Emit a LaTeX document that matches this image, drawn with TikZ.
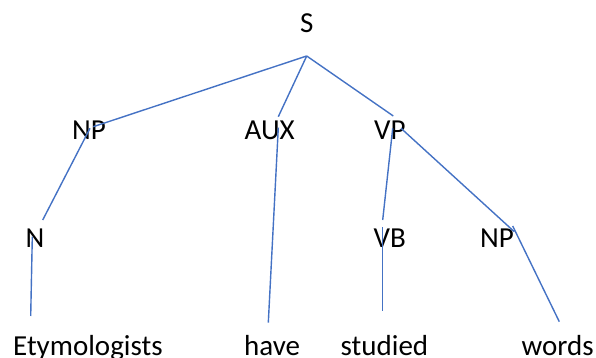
\documentclass[tikz,border=0pt]{standalone}
\usepackage{fontspec}
\setmainfont{Carlito}
\begin{document}
\begin{tikzpicture}[x=1pt,y=-1pt,
  lbl/.style={anchor=base west,inner sep=0pt,font=\fontsize{29}{31}\selectfont,text=black},
  edge/.style={draw={rgb,255:red,68;green,114;blue,196},line width=1.4pt}]
\useasboundingbox (0,0) rectangle (596,358);
% labels
\node[lbl] (s) at (300,33) {S};
\node[lbl] (np1) at (72,140) {NP};
\node[lbl] (aux) at (244.5,140) {AUX};
\node[lbl] (vp) at (374,140) {VP};
\node[lbl] (n) at (25.5,247) {N};
\node[lbl] (vb) at (373.5,247) {VB};
\node[lbl] (np2) at (480,247) {NP};
\node[lbl] (w1) at (13,355.3) {Etymologists};
\node[lbl] (w2) at (244,355.3) {have};
\node[lbl] (w3) at (340.5,355.3) {studied};
\node[lbl] (w4) at (521.5,355.3) {words};
% connector end points
\coordinate (apex) at (306.7,56);
\coordinate (npT) at (93.3,126.7);
\coordinate (auxT) at (278.3,116.7);
\coordinate (vpT) at (393.3,116);
\coordinate (npB) at (90,128.3);
\coordinate (nT) at (42.7,220);
\coordinate (nB) at (32.3,236.7);
\coordinate (w1T) at (30.7,316);
\coordinate (auxB) at (278.3,127.7);
\coordinate (w2T) at (268.3,322.7);
\coordinate (vpB1) at (392.7,128.3);
\coordinate (vbT) at (382.7,220);
\coordinate (vbB) at (382.7,227.3);
\coordinate (w3T) at (382.7,310.7);
\coordinate (vpB2) at (401,128.3);
\coordinate (np2T) at (514.3,231.7);
\coordinate (np2B) at (512.7,226);
\coordinate (w4T) at (559.3,321.7);
% connectors
\draw[edge] (apex) -- (npT);
\draw[edge] (apex) -- (auxT);
\draw[edge] (apex) -- (vpT);
\draw[edge] (npB) -- (nT);
\draw[edge] (nB) -- (w1T);
\draw[edge] (auxB) -- (w2T);
\draw[edge] (vpB1) -- (vbT);
\draw[edge] (vbB) -- (w3T);
\draw[edge] (vpB2) -- (np2T);
\draw[edge] (np2B) -- (w4T);
\end{tikzpicture}
\end{document}
